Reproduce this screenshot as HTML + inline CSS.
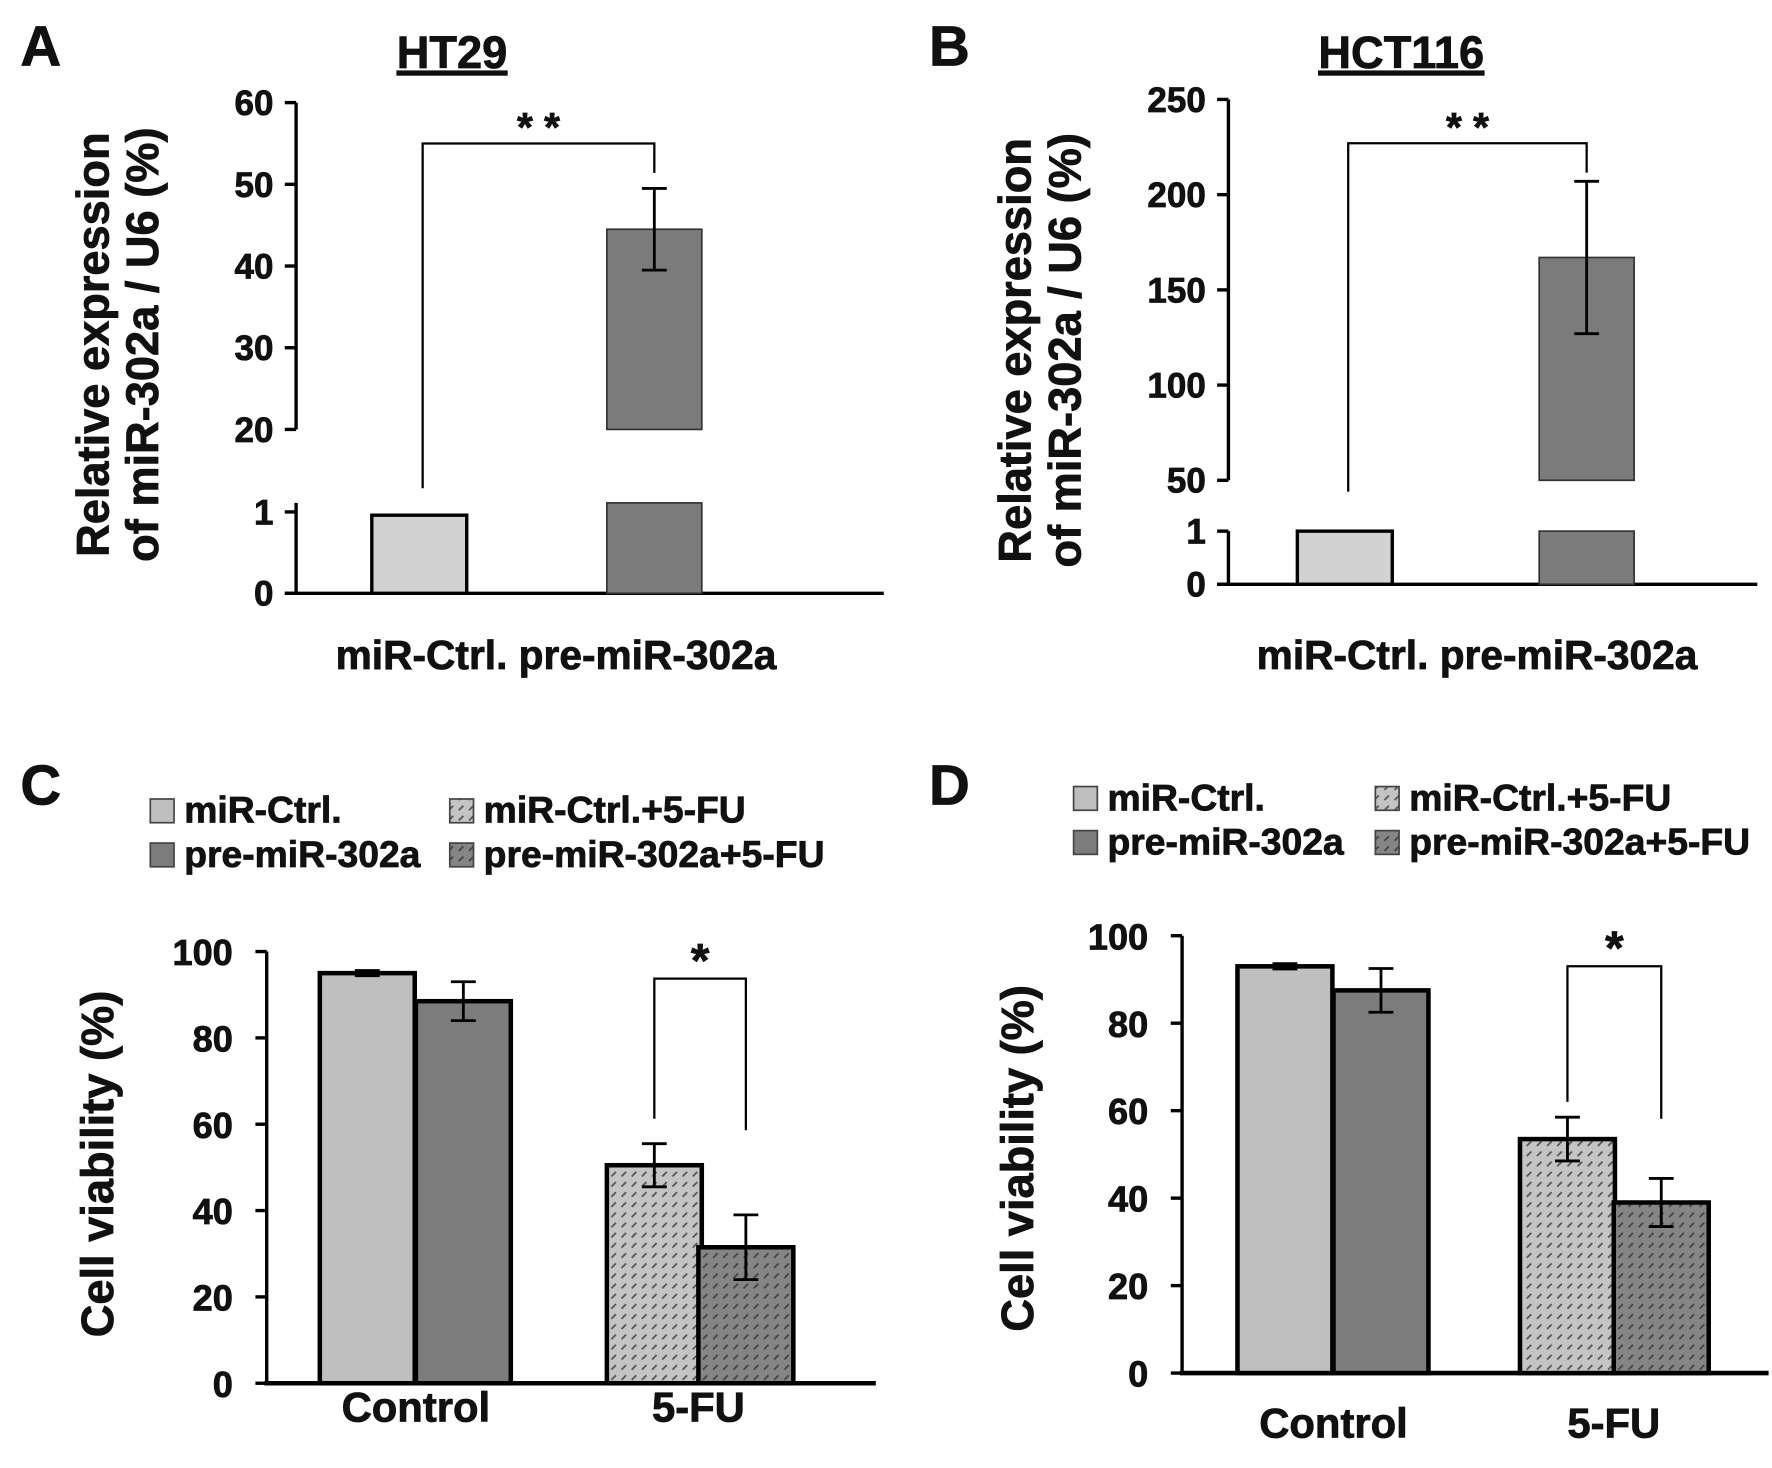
<!DOCTYPE html>
<html><head><meta charset="utf-8"><style>
html,body{margin:0;padding:0;background:#fff}
svg{display:block}
text{font-family:"Liberation Sans",Arial,sans-serif;font-weight:bold;fill:#111;stroke:#111;stroke-width:0.7}
</style></head><body>
<svg id="fig" width="1772" height="1468" viewBox="0 0 1568 1299" xmlns="http://www.w3.org/2000/svg">
<defs>
<pattern id="hatchL" patternUnits="userSpaceOnUse" width="9" height="9"><rect width="9" height="9" fill="#c4c4c4"/><line x1="1" y1="6" x2="5" y2="2" stroke="#555" stroke-width="1.6"/></pattern>
<pattern id="hatchD" patternUnits="userSpaceOnUse" width="9" height="9"><rect width="9" height="9" fill="#858585"/><line x1="1" y1="6" x2="5" y2="2" stroke="#444" stroke-width="1.6"/></pattern>
</defs>
<g id="root"></g>
</svg>
<script>
// Panel A data
const aCats = ["miR-Ctrl.", "pre-miR-302a"];
const aVals = [0.96, 44.5];
const aErr = [0, 5];
const aTicksUpper = [20, 30, 40, 50, 60];
const aTicksLower = [0, 1];
// Panel B data
const bCats = ["miR-Ctrl.", "pre-miR-302a"];
const bVals = [1, 167];
const bErr = [0, 40];
const bTicksUpper = [50, 100, 150, 200, 250];
const bTicksLower = [0, 1];
// Panel C data
const cGroups = ["Control", "5-FU"];
const cVals = [95, 88.5, 50.5, 31.5];
const cErr = [0.6, 4.5, 5, 7.5];
// Panel D data
const dGroups = ["Control", "5-FU"];
const dVals = [93, 87.5, 53.5, 39];
const dErr = [0.6, 5, 5, 5.5];
const viabTicks = [0, 20, 40, 60, 80, 100];
const legendLabels = ["miR-Ctrl.", "pre-miR-302a", "miR-Ctrl.+5-FU", "pre-miR-302a+5-FU"];

const NS = "http://www.w3.org/2000/svg";
const root = document.getElementById("root");
function mk(tag, attrs, parent, txt) {
  const e = document.createElementNS(NS, tag);
  for (const k in attrs) e.setAttribute(k, attrs[k]);
  if (txt !== undefined) e.textContent = txt;
  (parent || root).appendChild(e);
  return e;
}
function line(x1,y1,x2,y2,w,g,name){const l=mk("line",{x1,y1,x2,y2,stroke:"#000","stroke-width":w||3},g);

return l;}
function txt(x,y,s,size,anchor,g,name,extra){const t=mk("text",Object.assign({x,y,"font-size":size,"text-anchor":anchor||"start"},extra||{}),g,s);

return t;}
function errbar(x,yTop,yBot,g){
  line(x,yTop,x,yBot,2.5,g,'error-bar');
  line(x-11,yTop,x+11,yTop,2.5,g,'error-cap');
  line(x-11,yBot,x+11,yBot,2.5,g,'error-cap');
}

function brokenPanel(o){
  const g = mk("g",{});  
  txt(o.letterX,58,o.letter,50,"start",g,'panel-letter');
  const t=txt(o.titleX,60,o.title,40,"middle",g,'panel-title'); t.setAttribute("text-decoration","underline");
  const yU = v => o.uY0 - (v - o.uMin) * o.uScale;
  const yL = v => o.lY0 - (v - 0) * o.lScale;
  line(o.ax, yU(o.uMax), o.ax, yU(o.uMin), 3, g, 'y-axis-upper');
  line(o.ax, o.lTop, o.ax, yL(0), 3, g, 'y-axis-lower');
  line(o.ax-10, yL(0), o.xEnd, yL(0), 3, g, 'x-axis');
  o.ticksU.forEach(v=>{line(o.ax-10,yU(v),o.ax,yU(v),3,g,'y-tick');txt(o.ax-20,yU(v)+11,String(v),31,"end",g,'y-tick-label');});
  o.ticksL.forEach(v=>{line(o.ax-10,yL(v),o.ax,yL(v),3,g,'y-tick');txt(o.ax-20,yL(v)+11,String(v),31,"end",g,'y-tick-label');});
  const b1=mk("rect",{x:o.b1x,y:yL(o.vals[0]),width:o.bw,height:yL(0)-yL(o.vals[0]),fill:"#d2d2d2",stroke:"#000","stroke-width":3},g);
   
  const b2u=mk("rect",{x:o.b2x,y:yU(o.vals[1]),width:o.bw,height:yU(o.uMin)-yU(o.vals[1]),fill:"#7b7b7b",stroke:"#333","stroke-width":1.5},g);
   
  const b2l=mk("rect",{x:o.b2x,y:o.lTop,width:o.bw,height:yL(0)-o.lTop,fill:"#7b7b7b",stroke:"#333","stroke-width":1.5},g);
   
  const cx2=o.b2x+o.bw/2;
  errbar(cx2, yU(o.vals[1]+o.err[1]), yU(o.vals[1]-o.err[1]), g);
  const bx1=o.b1x+o.bw/2+3;
  const by=yU(o.brV);
  const br=mk("path",{d:`M${bx1},${o.brBot1} V${by} H${cx2} V${by+26}`,fill:"none",stroke:"#000","stroke-width":2},g);
   
  txt((bx1+cx2)/2,by-2,"* *",36,"middle",g,'significance-stars');
  txt(0,0,"Relative expression",40,"middle",g,'y-axis-title',{transform:`translate(${o.ytX},${o.ytY}) rotate(-90)`});
  txt(0,0,"of miR-302a / U6 (%)",40,"middle",g,'y-axis-title-line2',{transform:`translate(${o.ytX+44},${o.ytY}) rotate(-90)`});
  txt(o.xlX,592,o.cats[0]+" "+o.cats[1],36,"middle",g,'x-axis-labels');
}
brokenPanel({name:"panel-a",letter:"A",letterX:18,title:"HT29",titleX:400,ax:262,uMin:20,uMax:60,uY0:380,uScale:7.23,
  lY0:525,lScale:72,lTop:445,xEnd:782,ticksU:aTicksUpper,ticksL:aTicksLower,vals:aVals,err:aErr,cats:aCats,
  b1x:329,b2x:537,bw:84,brV:55,brBot1:432,ytX:96,ytY:305,xlX:492});
brokenPanel({name:"panel-b",letter:"B",letterX:822,title:"HCT116",titleX:1240,ax:1087,uMin:50,uMax:250,uY0:425,uScale:1.685,
  lY0:517,lScale:47,lTop:470,xEnd:1555,ticksU:bTicksUpper,ticksL:bTicksLower,vals:bVals,err:bErr,cats:bCats,
  b1x:1148,b2x:1362,bw:84,brV:227,brBot1:435,ytX:912,ytY:310,xlX:1307});

function groupedPanel(o){
  const g = mk("g",{});  
  txt(o.letterX,712,o.letter,50,"start",g,'panel-letter');
  const fills=["#bfbfbf","#7c7c7c","url(#hatchL)","url(#hatchD)"];
  const lp=[[o.lgX1,o.lgY],[o.lgX1,o.lgY+39],[o.lgX2,o.lgY],[o.lgX2,o.lgY+39]];
  legendLabels.forEach((s,i)=>{
    const r=mk("rect",{x:lp[i][0],y:lp[i][1]-21,width:21,height:21,fill:fills[i],stroke:"#444","stroke-width":1.5},g);
     
    txt(lp[i][0]+30,lp[i][1],s,33,"start",g,'legend-entry');
  });
  const y = v => o.y0 - v*o.sc;
  line(o.ax,y(100),o.ax,y(0),3,g,'y-axis');
  line(o.ax-2,y(0),o.xEnd,y(0),4,g,'x-axis');
  viabTicks.forEach(v=>{line(o.ax-10,y(v),o.ax,y(v),3,g,'y-tick');txt(o.ax-30,y(v)+12,String(v),32,"end",g,'y-tick-label');});
  const xs=o.barX;
  o.vals.forEach((v,i)=>{
    const r=mk("rect",{x:xs[i],y:y(v),width:o.bw,height:y(0)-y(v),fill:fills[i],stroke:"#000","stroke-width":4},g);
    
    
    errbar(xs[i]+o.bw/2, y(v+o.err[i]), y(v-o.err[i]), g);
  });
  const c3=xs[2]+o.bw/2, c4=xs[3]+o.bw/2;
  const br=mk("path",{d:`M${c3},${o.brL} V${o.brTop} H${c4} V${o.brR}`,fill:"none",stroke:"#000","stroke-width":2},g);
   
  txt((c3+c4)/2,o.brTop-2,"*",42,"middle",g,'significance-star');
  txt(0,0,"Cell viability (%)",40,"middle",g,'y-axis-title',{transform:`translate(${o.ytX},${o.ytY}) rotate(-90)`});
  txt(xs[1],o.xlY,o.groups[0],37,"middle",g,'x-label-control');
  txt(xs[3],o.xlY,o.groups[1],37,"middle",g,'x-label-5fu');
}
groupedPanel({name:"panel-c",letter:"C",letterX:18,lgX1:133,lgX2:398,lgY:728,ax:236,y0:1224,sc:3.82,xEnd:775,
  vals:cVals,err:cErr,groups:cGroups,barX:[283,368,537,618],bw:84,brTop:866,brL:990,brR:1000,ytX:100,ytY:1030,xlY:1258});
groupedPanel({name:"panel-d",letter:"D",letterX:822,lgX1:950,lgX2:1217,lgY:717,ax:1046,y0:1215,sc:3.87,xEnd:1565,
  vals:dVals,err:dErr,groups:dGroups,barX:[1095,1180,1345,1428],bw:84,brTop:855,brL:975,brR:990,ytX:914,ytY:1025,xlY:1272});
</script>
</body></html>
